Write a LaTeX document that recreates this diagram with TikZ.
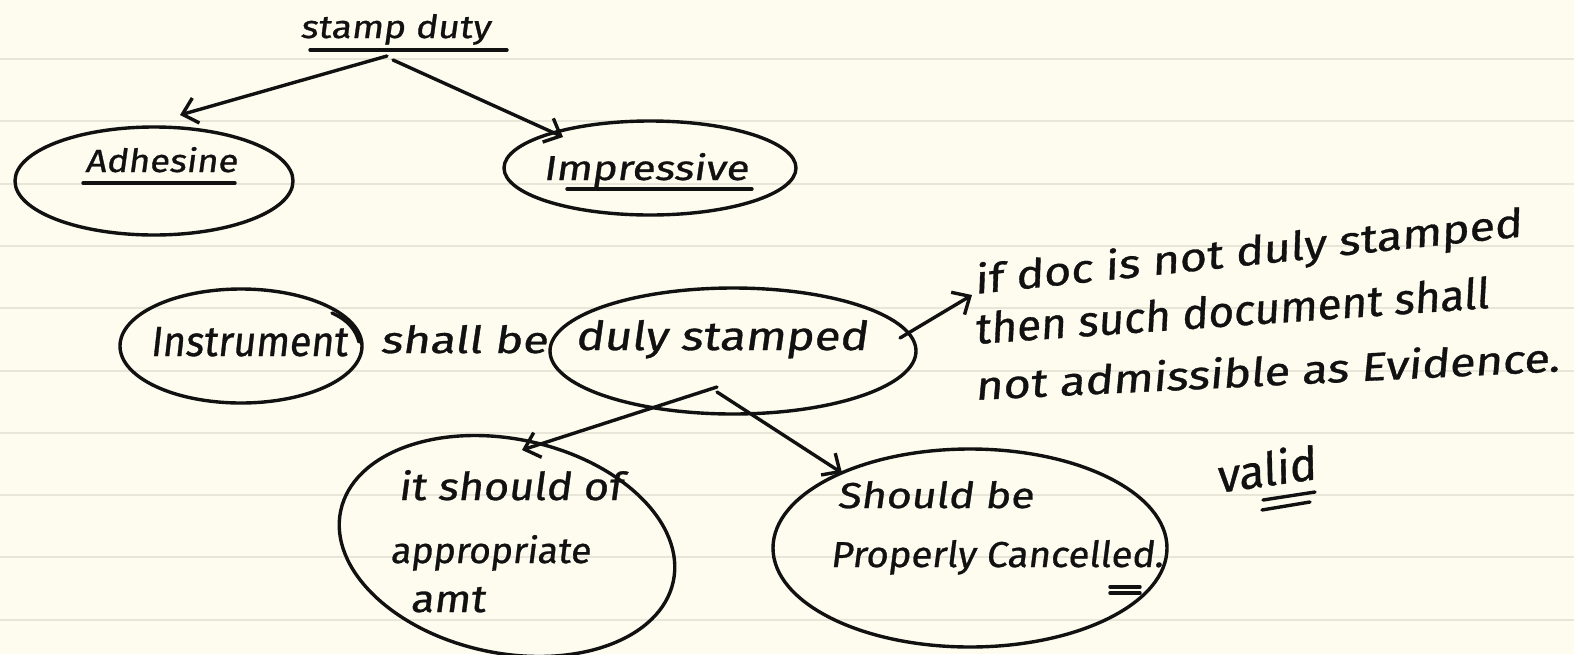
\documentclass[tikz,border=0pt]{standalone}
\usepackage{fontspec}
\setmainfont{Fira Sans}
\newfontfamily\handfont{Fira Sans}[FakeSlant=0.12, FakeBold=0.8]
\usepackage{graphicx}
\usetikzlibrary{arrows.meta,shapes.geometric}

\definecolor{paper}{HTML}{FDFCEF}
\definecolor{ruling}{HTML}{E8E6D9}
\definecolor{ink}{HTML}{111111}

% handwritten-looking text scaled to a given width and height (in pt)
\newcommand{\hw}[3]{\resizebox{#1pt}{#2pt}{\handfont #3}}

\tikzset{
  pen/.style={draw=ink, line width=3.4pt, line cap=round, line join=round},
  bubble/.style={pen, ellipse, inner sep=0pt},
  words/.style={inner sep=0pt, anchor=base west, text=ink},
  pointer/.style={pen, -{Straight Barb[length=14pt,width=26pt]}},
  rule/.style={draw=ruling, line width=2pt}
}

\begin{document}
\begin{tikzpicture}[x=1pt,y=-1pt]
  % paper and ruling
  \fill[paper] (0,0) rectangle (1574,654);
  \useasboundingbox (0,0) rectangle (1574,654);
  \foreach \k in {0,...,9} {
    \draw[rule] (0,{59+62.3*\k}) -- (1574,{59+62.3*\k});
  }

  % title
  \node[words] (sd) at (300,38) {\hw{190}{24}{stamp duty}};
  \draw[pen] (310,50) -- (507,50);
  \coordinate (sdl) at (387,56);
  \coordinate (sdr) at (393,60);

  % the two kinds of stamp
  \node[bubble, minimum width=278pt, minimum height=108pt] (adh) at (154,181) {};
  \node[words] (adht) at (85,172) {\hw{152}{25}{Adhesine}};
  \draw[pen] (83,183) -- (235,183);

  \node[bubble, minimum width=292pt, minimum height=94pt] (imp) at (650,168) {};
  \node[words] (impt) at (543,180) {\hw{205}{27}{Impressive}};
  \draw[pen] (567,189) -- (752,189);

  \coordinate (adhin) at (180,115);
  \coordinate (impin) at (563,137);
  \draw[pointer] (sdl) -- (adhin);
  \draw[pointer] (sdr) -- (impin);

  % the rule sentence
  \node[bubble, minimum width=242pt, minimum height=114pt] (ins) at (241,346) {};
  \draw[pen] (332,313) .. controls (348,320) and (356,330) .. (359,342);
  \node[words] (inst) at (150,356) {\hw{197}{29}{Instrument}};
  \node[words] (sb) at (380,353) {\hw{167}{28}{shall be}};
  \node[bubble, minimum width=366pt, minimum height=126pt] (ds) at (733,351) {};
  \node[words] (dst) at (575,350) {\hw{292}{30}{duly stamped}};

  % consequence note
  \node[words, rotate=6] (n1) at (975,294) {\hw{550}{31}{if doc is not duly stamped}};
  \node[words, rotate=4] (n2) at (975,344) {\hw{515}{32}{then such document shall}};
  \node[words, rotate=2.8] (n3) at (975,400) {\hw{585}{31}{not admissible as Evidence.}};

  \coordinate (dsr) at (900,338);
  \coordinate (n1in) at (972,295);
  \draw[pointer] (dsr) -- (n1in);

  % requirements
  \node[bubble, rotate=-12, minimum width=340pt, minimum height=214pt] (app) at (507,546) {};
  \node[words] (app1) at (398,500) {\hw{224}{30}{it should of}};
  \node[words] (app2) at (390,563) {\hw{200}{28}{appropriate}};
  \node[words] (app3) at (410,612) {\hw{75}{25}{amt}};

  \node[bubble, minimum width=394pt, minimum height=198pt] (can) at (970,548) {};
  \node[words] (can1) at (837,508) {\hw{196}{27}{Should be}};
  \node[words] (can2) at (830,567) {\hw{333}{27}{Properly Cancelled.}};
  \draw[pen] (1110,587) -- (1140,587);
  \draw[pen] (1110,593) -- (1140,593);

  \coordinate (dsl) at (717,387);
  \coordinate (dsm) at (717,392);
  \coordinate (appin) at (522,450);
  \coordinate (canin) at (842,473);
  \draw[pointer] (dsl) -- (appin);
  \draw[pointer] (dsm) -- (canin);

  % verdict
  \node[words, rotate=8] (val) at (1218,493) {\hw{100}{36}{valid}};
  \draw[pen] (1263,500) -- (1315,492);
  \draw[pen] (1262,510) -- (1310,502);
\end{tikzpicture}
\end{document}
